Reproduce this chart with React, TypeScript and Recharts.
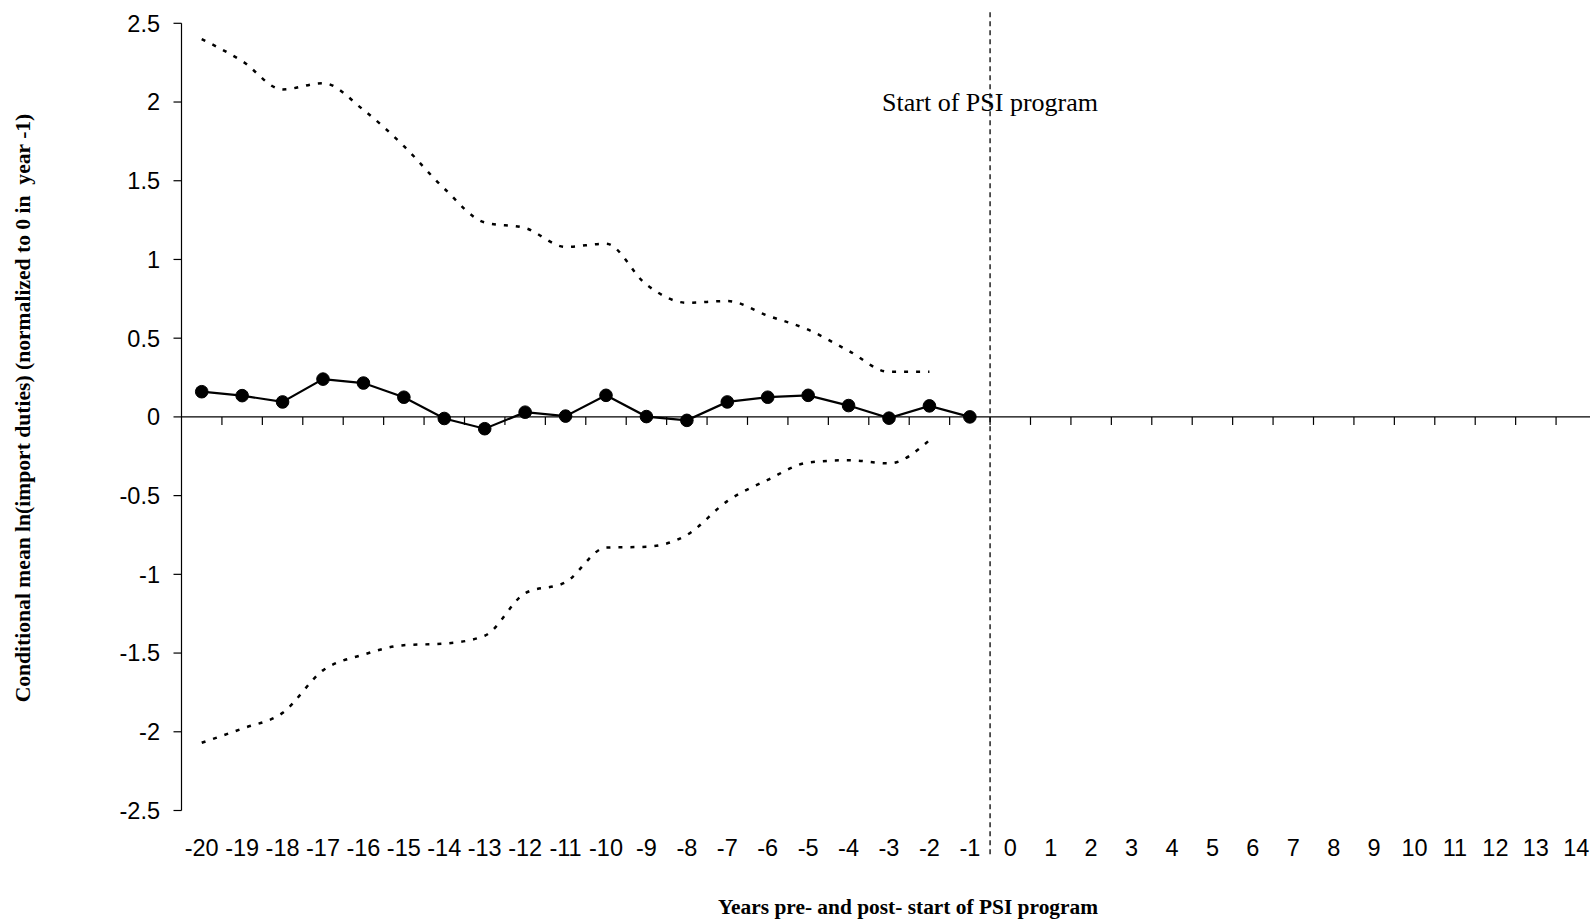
import React from 'react';
import { LineChart, Line, XAxis, YAxis, ReferenceLine, ReferenceDot } from 'recharts';

// Categories: years relative to start of PSI program
const years = [-20, -19, -18, -17, -16, -15, -14, -13, -12, -11, -10, -9, -8, -7, -6, -5, -4, -3, -2, -1, 0, 1, 2, 3, 4, 5, 6, 7, 8, 9, 10, 11, 12, 13, 14];

// Conditional mean (years -20 .. -1)
const meanValues = [0.16, 0.135, 0.095, 0.24, 0.215, 0.125, -0.01, -0.075, 0.03, 0.005, 0.137, 0.002, -0.022, 0.095, 0.125, 0.137, 0.072, -0.008, 0.07, 0];

// Upper / lower confidence bounds (years -20 .. -2)
const upperValues = [2.4, 2.26, 2.08, 2.12, 1.95, 1.72, 1.45, 1.235, 1.2, 1.08, 1.1, 0.84, 0.725, 0.736, 0.643, 0.554, 0.42, 0.286, 0.286];
const lowerValues = [-2.07, -1.98, -1.88, -1.61, -1.51, -1.45, -1.44, -1.39, -1.12, -1.05, -0.83, -0.825, -0.75, -0.535, -0.4, -0.29, -0.275, -0.295, -0.148];

const yTicks = [-2.5, -2, -1.5, -1, -0.5, 0, 0.5, 1, 1.5, 2, 2.5];
const psiStart = -0.5;
const psiLabel = 'Start of PSI program';
const yTitle = 'Conditional mean ln(import duties) (normalized to 0 in  year -1)';
const xTitle = 'Years pre- and post- start of PSI program';

const data = years.map((year, i) => ({
  year,
  mean: i < meanValues.length ? meanValues[i] : null,
  upper: i < upperValues.length ? upperValues[i] : null,
  lower: i < lowerValues.length ? lowerValues[i] : null,
}));

const boundaries = years.slice(1).map((y) => y - 0.5);

const sans = '"Liberation Sans", Arial, sans-serif';
const serif = '"Liberation Serif", "Times New Roman", serif';

export default function App() {
  return (
    <div style={{ position: 'absolute', left: 0, top: 0, width: 1590, height: 924, overflow: 'hidden', background: '#fff' }}>
      <LineChart
        width={1610}
        height={924}
        data={data}
        margin={{ top: 23.3, left: 81.5, right: 13.5, bottom: 53.5 }}
      >
        <XAxis
          dataKey="year"
          type="number"
          domain={[-20.5, 14.5]}
          ticks={years}
          interval={0}
          axisLine={false}
          tickLine={false}
          tickSize={8}
          tickMargin={21}
          height={60}
          tick={{ fill: '#000', fontSize: 23.5, fontFamily: sans }}
        />
        <YAxis
          type="number"
          domain={[-2.5, 2.5]}
          ticks={yTicks}
          interval={0}
          width={100}
          axisLine={{ stroke: '#000', strokeWidth: 1.2 }}
          tickLine={{ stroke: '#000', strokeWidth: 1.2 }}
          tickSize={8}
          tickMargin={13.5}
          tick={{ fill: '#000', fontSize: 23.5, fontFamily: sans }}
        />
        <ReferenceLine y={0} stroke="#000" strokeWidth={1.2} />
        {boundaries.map((b) => (
          <ReferenceLine
            key={b}
            segment={[{ x: b, y: 0 }, { x: b, y: -0.051 }]}
            stroke="#000"
            strokeWidth={1.2}
          />
        ))}
        <ReferenceLine
          segment={[{ x: psiStart, y: 2.57 }, { x: psiStart, y: -2.78 }]}
          ifOverflow="visible"
          stroke="#000"
          strokeWidth={1.3}
          strokeDasharray="5 4"
        />
        <ReferenceDot
          x={psiStart}
          y={2}
          r={0}
          fill="none"
          stroke="none"
          ifOverflow="visible"
          label={{ value: psiLabel, position: 'center', fill: '#000', fontSize: 26, fontFamily: serif }}
        />
        <Line
          type="monotone"
          dataKey="upper"
          stroke="#000"
          strokeWidth={2.5}
          strokeDasharray="4 8"
          dot={false}
          activeDot={false}
          isAnimationActive={false}
        />
        <Line
          type="monotone"
          dataKey="lower"
          stroke="#000"
          strokeWidth={2.5}
          strokeDasharray="4 8"
          dot={false}
          activeDot={false}
          isAnimationActive={false}
        />
        <Line
          type="linear"
          dataKey="mean"
          stroke="#000"
          strokeWidth={2.2}
          dot={{ r: 6.3, fill: '#000', stroke: '#000', strokeWidth: 1 }}
          activeDot={false}
          isAnimationActive={false}
        />
      </LineChart>
      <svg width={1590} height={924} style={{ position: 'absolute', left: 0, top: 0, pointerEvents: 'none' }}>
        <text
          x={23}
          y={408}
          transform="rotate(-90 23 408)"
          textAnchor="middle"
          dominantBaseline="central"
          fontFamily={serif}
          fontWeight="bold"
          fontSize={21.6}
          fill="#000"
          style={{ whiteSpace: 'pre' }}
        >
          {yTitle}
        </text>
        <text
          x={908}
          y={907}
          textAnchor="middle"
          dominantBaseline="central"
          fontFamily={serif}
          fontWeight="bold"
          fontSize={21.4}
          fill="#000"
        >
          {xTitle}
        </text>
      </svg>
    </div>
  );
}
